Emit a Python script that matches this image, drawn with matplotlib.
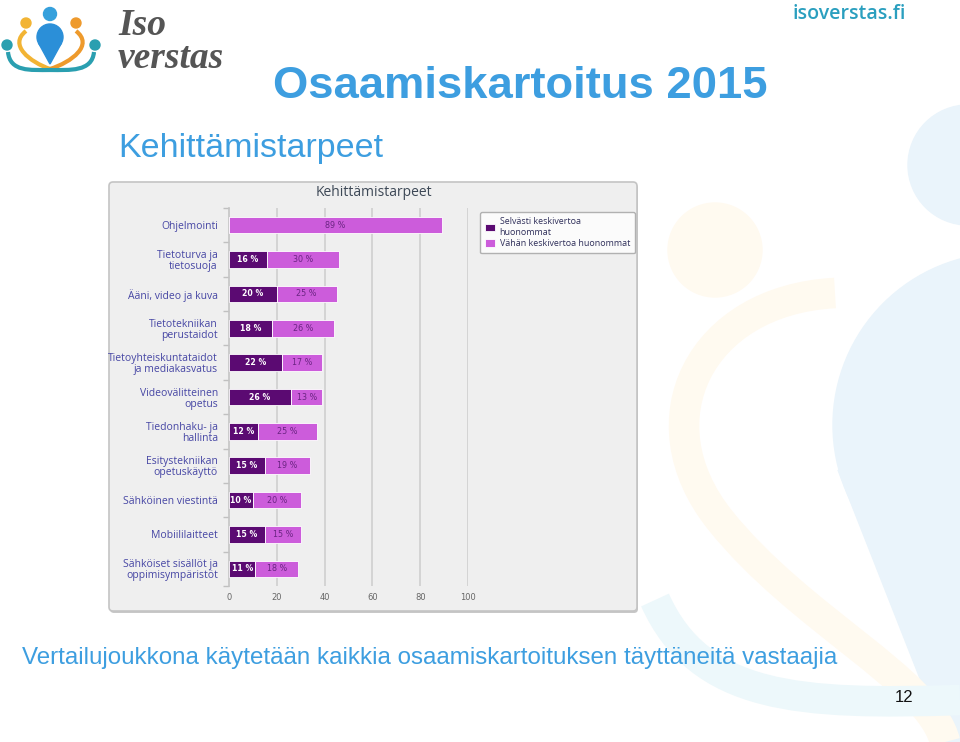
import numpy as np
import matplotlib
matplotlib.use("Agg")
import matplotlib.pyplot as plt
from matplotlib.patches import Circle, FancyBboxPatch, PathPatch, Polygon
from matplotlib.path import Path

# data
categories = [
    "Ohjelmointi",
    "Tietoturva ja\ntietosuoja",
    "Ääni, video ja kuva",
    "Tietotekniikan\nperustaidot",
    "Tietoyhteiskuntataidot\nja mediakasvatus",
    "Videovälitteinen\nopetus",
    "Tiedonhaku- ja\nhallinta",
    "Esitystekniikan\nopetuskäyttö",
    "Sähköinen viestintä",
    "Mobiililaitteet",
    "Sähköiset sisällöt ja\noppimisympäristöt",
]
selvasti = [0, 16, 20, 18, 22, 26, 12, 15, 10, 15, 11]
vahan = [89, 30, 25, 26, 17, 13, 25, 19, 20, 15, 18]
series_names = ["Selvästi keskivertoa\nhuonommat", "Vähän keskivertoa huonommat"]
x_ticks = [0, 20, 40, 60, 80, 100]

W, H = 960, 742
DARK = "#5b0a72"
LIGHT = "#cc5cdb"
BLUE = "#3d9ee0"

fig = plt.figure(figsize=(W / 100, H / 100), dpi=100)
fig.patch.set_facecolor("white")

# background axes in pixel coords (y down)
bg = fig.add_axes([0, 0, 1, 1])
bg.set_xlim(0, W)
bg.set_ylim(H, 0)
bg.axis("off")

# faint decorative shapes
PALE_BLUE = "#eaf4fb"
PALE_ORANGE = "#fffaf0"
bg.add_patch(Circle((968, 165), 60, color=PALE_BLUE, zorder=0))
bg.add_patch(Circle((1005, 425), 172, color=PALE_BLUE, zorder=0))
bg.add_patch(Polygon([[838, 470], [1000, 560], [962, 742], [945, 742]], closed=True,
                     color=PALE_BLUE, zorder=0))
bg.add_patch(Circle((715, 250), 47, color=PALE_ORANGE, zorder=0))
arc = Path([(835, 293), (700, 300), (640, 420), (720, 520), (800, 620), (930, 680), (945, 742)],
           [Path.MOVETO, Path.CURVE4, Path.CURVE4, Path.CURVE4, Path.CURVE4, Path.CURVE4, Path.CURVE4])
bg.add_patch(PathPatch(arc, facecolor="none", edgecolor=PALE_ORANGE, lw=22, zorder=0))
arc2 = Path([(655, 600), (700, 700), (800, 705), (960, 700)],
            [Path.MOVETO, Path.CURVE4, Path.CURVE4, Path.CURVE4])
bg.add_patch(PathPatch(arc2, facecolor="none", edgecolor="#edf8fb", lw=22, zorder=0))

# logo
bg.add_patch(Circle((50, 14), 6.5, color="#35a0dc", zorder=2))
bg.add_patch(Circle((26, 23), 5, color="#f2b434", zorder=2))
bg.add_patch(Circle((76, 23), 5, color="#ee9a2c", zorder=2))
bg.add_patch(Circle((7, 45), 5, color="#2a9fb0", zorder=2))
bg.add_patch(Circle((95, 45), 5, color="#2a9fb0", zorder=2))
left_c = Path([(26, 31), (8, 45), (30, 62), (50, 69)],
              [Path.MOVETO, Path.CURVE4, Path.CURVE4, Path.CURVE4])
right_c = Path([(76, 31), (94, 45), (72, 62), (50, 69)],
               [Path.MOVETO, Path.CURVE4, Path.CURVE4, Path.CURVE4])
bg.add_patch(PathPatch(left_c, facecolor="none", edgecolor="#f2b434", lw=3, zorder=2))
bg.add_patch(PathPatch(right_c, facecolor="none", edgecolor="#ee9a2c", lw=3, zorder=2))
base_c = Path([(8, 52), (10, 72), (30, 70), (50, 70), (70, 70), (92, 72), (94, 52)],
              [Path.MOVETO, Path.CURVE4, Path.CURVE4, Path.CURVE4, Path.CURVE4, Path.CURVE4, Path.CURVE4])
bg.add_patch(PathPatch(base_c, facecolor="none", edgecolor="#2a9fb0", lw=3, zorder=2))
bg.add_patch(Circle((50, 37), 13, color="#2b8fd8", zorder=3))
bg.add_patch(Polygon([[38.5, 43], [61.5, 43], [50, 64]], closed=True, color="#2b8fd8", zorder=3))

bg.text(118, 42, "Iso\nverstas", family="Liberation Serif", style="italic", weight="bold",
        fontsize=27, color="#555555", va="center", ha="left", linespacing=0.9)
bg.text(849, 14, "isoverstas.fi", family="Open Sans", weight="semibold",
        fontsize=14, color="#2a9fbf", va="center", ha="center")

# slide texts
bg.text(520, 86, "Osaamiskartoitus 2015", family="Liberation Sans", weight="bold",
        fontsize=32.7, color=BLUE, va="center", ha="center")
bg.text(118, 149, "Kehittämistarpeet", family="Liberation Sans",
        fontsize=24.5, color=BLUE, va="center", ha="left")
bg.text(22, 658, "Vertailujoukkona käytetään kaikkia osaamiskartoituksen täyttäneitä vastaajia",
        family="Liberation Sans", fontsize=17.4, color=BLUE, va="center", ha="left")
bg.text(913, 697, "12", family="Liberation Sans", fontsize=12, color="#111111",
        va="center", ha="right")

# chart panel
bg.add_patch(FancyBboxPatch((110, 184), 528, 429, boxstyle="round,pad=0,rounding_size=4",
                            facecolor="#c8c8c8", edgecolor="none", zorder=1))
bg.add_patch(FancyBboxPatch((109, 182), 528, 429, boxstyle="round,pad=0,rounding_size=4",
                            facecolor="#efefef", edgecolor="#c4c4c4", lw=1.2, zorder=1))
bg.text(374, 193, "Kehittämistarpeet", family="Open Sans", fontsize=10,
        color="#3d4856", va="center", ha="center", zorder=2)

# bar chart axes: x 229..468, y 208..586 px
ax = fig.add_axes([229 / W, 1 - 586 / H, 239 / W, 378 / H], zorder=2)
ax.patch.set_alpha(0)
y = np.arange(len(categories))
ax.barh(y, selvasti, height=0.48, color=DARK, edgecolor="white", lw=0.6,
        label=series_names[0], zorder=3)
ax.barh(y, vahan, left=selvasti, height=0.48, color=LIGHT, edgecolor="white", lw=0.6,
        label=series_names[1], zorder=3)

for i in range(len(categories)):
    if selvasti[i] > 0:
        ax.text(selvasti[i] / 2, y[i], f"{selvasti[i]} %", ha="center", va="center",
                fontsize=5.6, color="white", weight="bold", family="DejaVu Sans", zorder=4)
    if vahan[i] > 0:
        ax.text(selvasti[i] + vahan[i] / 2, y[i], f"{vahan[i]} %", ha="center", va="center",
                fontsize=5.8, color="#6a2482", family="DejaVu Sans", zorder=4)

ax.set_xlim(0, 100)
ax.set_ylim(len(categories) - 0.5, -0.5)
ax.set_xticks(x_ticks)
ax.set_xticklabels([str(t) for t in x_ticks], fontsize=6, color="#666666", family="DejaVu Sans")
ax.set_yticks(y)
ax.set_yticklabels(categories, fontsize=7.5, color="#4646a4", family="Open Sans",
                   linespacing=1.0)
ax.set_yticks(np.arange(-0.5, len(categories), 1), minor=True)
ax.tick_params(axis="y", which="major", length=0, pad=8)
ax.tick_params(axis="y", which="minor", length=4, color="#c0c0c0", width=1)
ax.tick_params(axis="x", length=0, pad=5)
for s in ["top", "right", "bottom"]:
    ax.spines[s].set_visible(False)
ax.spines["left"].set_color("#c4c4c4")
ax.spines["left"].set_linewidth(1.2)
for t in x_ticks[1:]:
    ax.axvline(t, color="#d2d2d2", lw=1.3, zorder=1)

leg = ax.legend(loc="upper left", bbox_to_anchor=(476 / W, 1 - 208 / H),
                bbox_transform=fig.transFigure, frameon=True, fancybox=True,
                edgecolor="#a0a0a0", facecolor="white", handlelength=1.1, handleheight=1.0,
                handletextpad=0.5, borderpad=0.55, labelspacing=0.3,
                prop={"family": "Open Sans", "size": 6.4})
for txt in leg.get_texts():
    txt.set_color("#2f2f5a")
leg.get_frame().set_linewidth(1.0)

fig.savefig("out.png", dpi=100)
